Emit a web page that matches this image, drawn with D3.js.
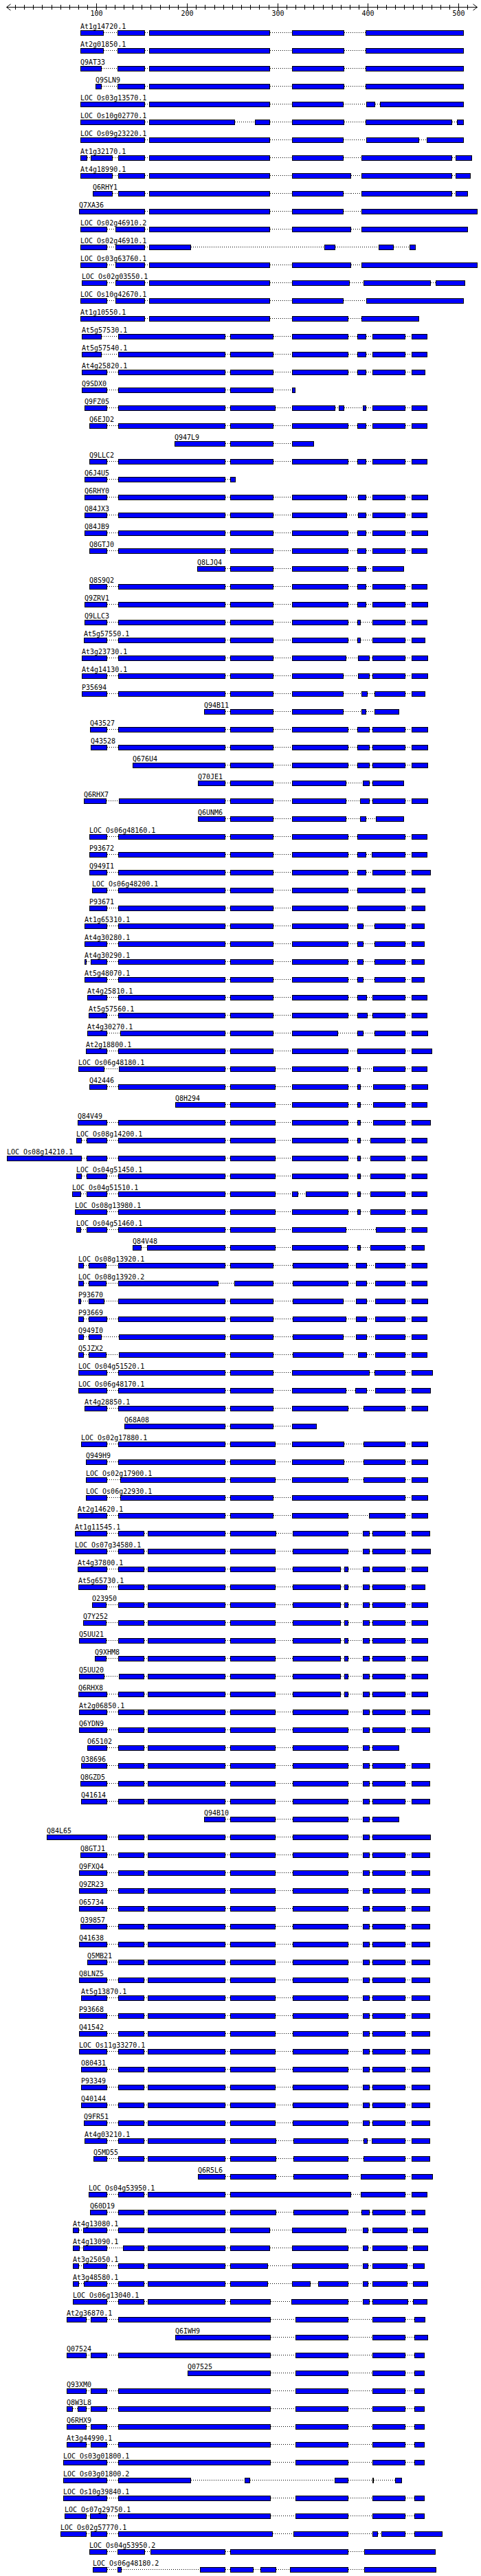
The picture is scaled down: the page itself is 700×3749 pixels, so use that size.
<!DOCTYPE html>
<html><head><meta charset="utf-8">
<script src="https://cdn.jsdelivr.net/npm/d3@7"></script>
<style>body{margin:0;background:#fff}svg{display:block}</style>
</head><body>
<svg id="chart" width="700" height="3749"></svg>
<script>
// ---- data ----
const axisDomain = [0, 520];
const majorTicks = [100, 200, 300, 400, 500];
const minorTicks = [10,20,30,40,50,60,70,80,90,100,110,120,130,140,150,160,170,180,190,200,210,220,230,240,250,260,270,280,290,300,310,320,330,340,350,360,370,380,390,400,410,420,430,440,450,460,470,480,490,500,510];

const labels = [
"At1g14720.1","At2g01850.1","Q9AT33","Q9SLN9","LOC_Os03g13570.1","LOC_Os10g02770.1","LOC_Os09g23220.1","At1g32170.1","At4g18990.1","Q6RHY1","Q7XA36",
"LOC_Os02g46910.2","LOC_Os02g46910.1","LOC_Os03g63760.1","LOC_Os02g03550.1","LOC_Os10g42670.1","At1g10550.1","At5g57530.1","At5g57540.1","At4g25820.1","Q9SDX0","Q9FZ05","Q6EJD2",
"Q947L9","Q9LLC2","Q6J4U5","Q6RHY0","Q84JX3","Q84JB9","Q8GTJ0","Q8LJQ4","Q8S9Q2","Q9ZRV1","Q9LLC3","At5g57550.1",
"At3g23730.1","At4g14130.1","P35694","Q94B11","Q43527","Q43528","Q676U4","Q70JE1","Q6RHX7","Q6UNM6","LOC_Os06g48160.1","P93672",
"Q949I1","LOC_Os06g48200.1","P93671","At1g65310.1","At4g30280.1","At4g30290.1","At5g48070.1","At4g25810.1","At5g57560.1","At4g30270.1","At2g18800.1","LOC_Os06g48180.1",
"Q42446","Q8H294","Q84V49","LOC_Os08g14200.1","LOC_Os08g14210.1","LOC_Os04g51450.1","LOC_Os04g51510.1","LOC_Os08g13980.1","LOC_Os04g51460.1","Q84V48","LOC_Os08g13920.1","LOC_Os08g13920.2",
"P93670","P93669","Q949I0","Q5JZX2","LOC_Os04g51520.1","LOC_Os06g48170.1","At4g28850.1","Q68A08","LOC_Os02g17880.1","Q949H9","LOC_Os02g17900.1","LOC_Os06g22930.1",
"At2g14620.1","At1g11545.1","LOC_Os07g34580.1","At4g37800.1","At5g65730.1","O23950","Q7Y252","Q5UU21","Q9XHM8","Q5UU20","Q6RHX8","At2g06850.1",
"Q6YDN9","O65102","Q38696","Q8GZD5","Q41614","Q94B10","Q84L65","Q8GTJ1","Q9FXQ4","Q9ZR23","O65734","Q39857",
"Q41638","Q5MB21","Q8LNZ5","At5g13870.1","P93668","Q41542","LOC_Os11g33270.1","O80431","P93349","Q40144","Q9FR51","At4g03210.1",
"Q5MD55","Q6R5L6","LOC_Os04g53950.1","Q60D19","At4g13080.1","At4g13090.1","At3g25050.1","At3g48580.1","LOC_Os06g13040.1","At2g36870.1","Q6IWH9","Q07524",
"Q07525","Q93XM0","Q8W3L8","Q6RHX9","At3g44990.1","LOC_Os03g01800.1","LOC_Os03g01800.2","LOC_Os10g39840.1","LOC_Os07g29750.1","LOC_Os02g57770.1","LOC_Os04g53950.2","LOC_Os06g48180.2"
];

// segment boundaries per row: start,end,start,end,... (sequence positions)
const exons = [
[82,107,123,153,158,291,316,373,397,505],
[82,107,123,153,158,291,316,373,397,505],
[82,105,123,153,158,291,316,373,397,505],
[99,105,123,153,158,291,316,373,397,505],
[82,153,158,291,316,372,398,407,413,505],
[82,153,158,252,275,291,316,373,397,492,498,505],
[82,153,158,291,316,372,398,456,465,505],
[82,89,94,117,124,153,158,291,316,372,393,492,497,514],
[82,117,124,153,158,291,316,381,393,492,497,513],
[96,117,124,153,158,291,316,372,381,381,393,492,497,510],
[81,153,158,291,316,372,393,520],
[82,111,121,153,158,291,316,381,393,510],
[82,111,121,153,158,204,352,363,412,428,446,452],
[82,111,121,153,158,291,316,381,393,520],
[84,111,121,153,158,291,316,379,395,469,475,507],
[82,111,121,153,158,291,316,372,398,505],
[82,153,158,291,316,378,393,456],
[84,105,124,242,248,295,316,378,388,397,405,441,448,465],
[84,105,124,242,248,295,316,378,388,397,405,441,448,465],
[84,111,124,242,248,295,316,378,388,397,405,441,448,463],
[84,111,124,242,248,295,316,319],
[87,111,124,242,248,297,316,363,368,373,394,397,405,441,448,465],
[92,111,124,242,248,295,316,378,388,397,405,441,448,465],
[186,242,248,295,316,340],
[92,111,124,242,248,295,316,378,388,397,405,441,448,465],
[87,111,124,242,248,253],
[87,111,124,242,248,295,316,376,389,397,405,441,448,466],
[87,111,124,242,248,295,316,376,389,397,405,441,448,465],
[87,111,124,242,248,295,316,378,388,397,405,441,448,466],
[92,111,124,242,248,295,316,378,388,397,405,441,448,465],
[211,242,248,295,316,378,388,397,405,439],
[92,111,124,242,248,295,316,378,388,397,405,441,448,465],
[87,111,124,242,248,295,316,378,388,397,405,441,448,466],
[87,111,124,242,248,295,316,378,388,391,405,441,448,465],
[86,111,124,242,248,295,316,378,388,391,405,441,448,463],
[84,111,124,242,248,295,316,375,389,401,405,441,448,466],
[84,111,124,242,248,295,316,372,389,401,405,441,448,466],
[84,111,124,242,248,295,316,372,393,399,407,441,448,463],
[219,242,248,295,316,372,393,397,407,434],
[93,111,124,242,248,295,316,378,388,401,405,441,448,466],
[94,111,124,242,248,295,316,378,388,401,405,441,448,466],
[140,242,248,295,316,378,388,401,405,441,448,466],
[212,242,248,295,316,375,394,401,405,439],
[86,110,125,242,248,295,316,375,391,401,405,441,448,466],
[212,242,248,295,316,375,391,397,409,439],
[92,111,124,242,248,295,316,378,388,441,448,465],
[92,111,124,242,248,295,316,378,388,397,404,441,448,465],
[92,111,124,242,248,295,316,378,388,397,405,441,448,469],
[95,111,124,242,248,295,316,378,388,441,448,463],
[92,111,124,242,248,295,316,378,388,441,448,463],
[87,111,124,242,248,295,316,378,388,394,407,441,448,462],
[87,111,124,242,248,295,316,378,388,394,407,441,448,462],
[87,88,94,111,124,242,248,295,316,378,388,394,407,441,448,462],
[87,111,124,242,248,295,316,378,388,394,407,441,448,462],
[90,111,124,242,248,295,316,378,388,398,405,441,448,465],
[91,111,124,242,248,295,316,378,388,399,405,441,448,465],
[90,111,126,242,248,295,316,366,388,394,407,441,448,466],
[88,111,124,242,248,295,316,378,388,441,448,470],
[80,108,125,242,248,297,316,378,388,391,406,441,448,465],
[92,111,124,242,248,297,316,378,388,391,406,441,448,466],
[187,242,248,297,316,378,388,391,406,441,448,465],
[79,111,124,242,248,297,316,378,388,391,406,441,448,469],
[78,83,89,111,124,242,248,297,316,378,388,391,403,441,448,465],
[1,83,89,111,124,242,248,297,316,378,388,391,403,441,448,465],
[78,83,89,111,124,242,248,297,316,378,388,391,403,441,448,465],
[73,82,89,111,124,242,248,297,316,322,331,378,388,391,403,441,448,465],
[76,111,124,242,248,297,316,378,388,391,403,441,448,465],
[78,82,89,111,124,242,248,297,316,375,409,441,448,465],
[140,149,156,242,248,297,316,378,388,391,403,441,448,462],
[80,85,91,110,124,242,248,295,317,378,387,398,408,441,448,465],
[80,85,91,110,124,234,252,295,317,378,387,398,408,441,448,465],
[80,82,91,108,124,242,248,295,317,372,387,398,408,441,448,466],
[80,85,91,111,124,242,248,295,317,375,387,398,408,441,448,465],
[80,85,91,105,125,242,248,295,317,372,387,398,408,441,448,465],
[80,85,91,110,125,242,248,295,317,372,389,398,408,441,448,465],
[80,111,124,242,248,295,316,401,407,441,448,471],
[80,111,124,242,248,295,316,375,386,398,408,441,448,469],
[87,111,124,242,248,295,316,378,395,441,448,466],
[131,242,248,295,316,343],
[83,111,124,242,248,297,316,373,395,441,448,466],
[88,111,124,242,248,297,316,373,395,441,448,466],
[88,111,126,242,248,297,316,378,395,441,448,466],
[88,111,126,242,248,295,316,441,448,466],
[79,111,124,242,248,295,316,378,401,441,448,466],
[76,111,124,152,157,242,248,298,317,378,394,401,405,441,448,468],
[76,111,124,152,157,242,248,297,317,378,394,401,405,441,448,469],
[79,111,124,152,157,242,248,297,317,369,374,378,394,401,405,441,448,466],
[80,111,124,152,157,242,248,297,317,369,374,378,394,401,405,441,448,463],
[95,110,124,152,157,242,248,297,317,369,374,378,394,401,405,441,448,466],
[85,110,124,152,157,242,248,297,317,369,374,378,394,401,405,441,448,466],
[81,110,124,152,157,242,248,297,317,369,374,378,394,401,405,441,448,466],
[98,110,124,152,157,242,248,297,317,369,374,378,394,401,405,441,448,466],
[81,108,125,152,157,242,248,297,317,369,374,378,394,401,405,441,448,466],
[80,111,124,152,157,242,248,297,317,369,374,378,394,401,405,441,448,466],
[81,111,124,152,157,242,248,297,317,378,394,401,405,441,448,468],
[81,111,124,152,157,242,248,297,317,378,394,401,405,441,448,468],
[90,111,124,152,157,242,248,297,317,378,394,401,405,434],
[83,111,124,152,157,242,248,297,317,378,394,401,405,441,448,468],
[82,111,124,152,157,242,248,297,317,378,394,401,405,441,448,468],
[83,111,124,152,157,242,248,297,317,378,394,401,405,441,448,468],
[219,242,248,297,317,378,394,401,405,434],
[45,111,124,152,157,242,248,297,317,378,394,401,405,469],
[82,111,124,152,157,242,248,297,317,378,394,401,405,441,448,468],
[81,111,124,152,157,242,248,297,317,378,394,401,405,441,448,468],
[81,111,124,152,157,242,248,297,317,378,394,401,405,441,448,468],
[81,111,124,152,157,242,248,297,317,378,394,401,405,441,448,468],
[82,111,124,152,157,242,248,297,317,378,394,401,405,441,448,468],
[81,111,124,152,157,242,248,297,317,378,394,401,405,441,448,468],
[90,111,124,152,157,242,248,297,317,378,394,401,405,441,448,468],
[81,111,124,152,157,242,248,297,317,378,394,401,405,441,448,468],
[83,111,124,152,157,242,248,297,317,378,394,401,405,441,448,468],
[81,111,124,152,157,242,248,297,317,378,394,401,405,441,448,468],
[81,111,124,152,157,242,248,297,317,378,394,401,405,441,448,468],
[81,111,124,152,157,242,248,297,317,378,394,401,405,441,448,468],
[83,111,124,152,157,242,248,297,317,378,394,401,405,441,448,468],
[83,111,124,152,157,242,248,297,317,378,394,401,405,441,448,468],
[83,111,124,152,157,242,248,297,317,378,394,401,405,441,448,468],
[86,111,124,152,157,242,248,297,317,378,394,401,405,441,448,468],
[87,111,124,152,157,242,248,298,318,378,395,399,404,441,448,468],
[97,111,124,152,157,242,248,298,318,378,395,441,448,468],
[212,242,248,298,318,378,392,441,448,471],
[91,111,124,152,157,242,248,381,392,441,448,465],
[93,111,124,152,157,242,248,298,318,378,393,401,405,441,448,463],
[74,80,85,111,124,152,157,242,248,291,316,375,394,400,405,443,450,466],
[74,81,85,111,129,152,157,242,248,291,316,378,394,400,405,443,450,466],
[74,80,85,111,124,152,157,242,248,289,316,378,394,400,405,443,450,462],
[74,80,86,111,124,152,157,242,248,289,316,336,345,378,394,400,405,443,450,466],
[74,111,124,152,157,242,248,292,315,378,394,401,405,444,450,465],
[67,88,94,111,124,292,320,378,405,441,451,463],
[187,292,320,378,405,441,451,466],
[67,88,94,111,124,292,320,378,405,441,451,462],
[201,292,320,378,405,441,451,462],
[67,88,94,111,124,292,320,378,405,441,451,462],
[67,73,79,88,94,111,124,292,320,378,405,441,451,462],
[67,88,94,111,124,292,320,378,405,441,451,462],
[67,88,94,111,124,292,320,378,405,441,451,462],
[63,111,124,292,320,378,405,441,451,462],
[63,111,124,204,264,269,363,378,405,406,430,437],
[63,111,124,292,320,378,405,441,451,462],
[65,88,93,111,124,292,320,378,405,441,451,462],
[60,88,94,111,124,294,318,378,405,410,415,441,451,482],
[92,111,123,153,160,242,248,378,396,474],
[96,111,123,127,214,242,248,273,281,298,314,378,396,475]
];

// ---- drawing ----
const svg = d3.select("#chart");
const x = d3.scaleLinear().domain(axisDomain).range([8.7, 693.5]);
const y = d3.scaleLinear().domain([0, labels.length - 1]).range([48, 48 + 26 * (labels.length - 1)]);
const px = v => Math.round(x(v)) + 0.5;
const FONT = "'DejaVu Sans Mono', 'Liberation Mono', monospace";

// axis
const axisY = 10.5;
const ax = svg.append("g").attr("shape-rendering", "crispEdges");
ax.append("line").attr("x1", px(0)).attr("x2", px(520)).attr("y1", axisY).attr("y2", axisY).attr("stroke", "#000");
ax.selectAll("line.tick").data(minorTicks).join("line").attr("class", "tick")
  .attr("x1", d => px(d)).attr("x2", d => px(d))
  .attr("y1", d => majorTicks.includes(d) ? axisY - 5.5 : axisY - 3.5)
  .attr("y2", d => majorTicks.includes(d) ? axisY + 5 : axisY + 3)
  .attr("stroke", "#000");
const ar = svg.append("g").attr("fill", "none").attr("stroke", "#000");
ar.append("path").attr("d", `M${px(0)+6},${axisY-4.5}L${px(0)},${axisY}L${px(0)+6},${axisY+4.5}`);
ar.append("path").attr("d", `M${px(520)-6},${axisY-4.5}L${px(520)},${axisY}L${px(520)-6},${axisY+4.5}`);
svg.append("g").selectAll("text").data(majorTicks).join("text")
  .attr("x", d => px(d)).attr("y", 23)
  .attr("text-anchor", "middle").attr("font-family", FONT).attr("font-size", 10).attr("fill", "#000")
  .text(d => d);

// rows
const rows = labels.map((lab, i) => {
  const e = exons[i], segs = [];
  for (let k = 0; k < e.length; k += 2) segs.push([e[k], e[k+1]]);
  return { lab, i, segs };
});
const row = svg.append("g").selectAll("g.row").data(rows).join("g").attr("class", "row");

row.each(function(r) {
  const sel = d3.select(this);
  const yc = Math.round(y(r.i));
  for (let k = 0; k < r.segs.length - 1; k++) {
    const a = px(r.segs[k][1]), b = px(r.segs[k+1][0]);
    if (b - a > 1) {
      sel.append("line").attr("x1", a).attr("x2", b).attr("y1", yc - 0.5).attr("y2", yc - 0.5)
        .attr("stroke", "#000").attr("stroke-dasharray", "1,2").attr("shape-rendering", "crispEdges");
    }
  }
});
row.selectAll("rect").data(r => r.segs.map(s => ({ s, i: r.i }))).join("rect")
  .attr("x", d => px(d.s[0]))
  .attr("width", d => px(d.s[1]) - px(d.s[0]))
  .attr("y", d => Math.round(y(d.i)) - 3.5)
  .attr("height", 7)
  .attr("fill", "#0000ff").attr("stroke", "#000").attr("stroke-width", 1)
  .attr("shape-rendering", "crispEdges");
row.append("text")
  .attr("x", r => px(r.segs[0][0]) - 0.5)
  .attr("y", r => Math.round(y(r.i)) - 6)
  .attr("font-family", FONT).attr("font-size", 10).attr("fill", "#000")
  .text(r => r.lab);
</script>
</body></html>
